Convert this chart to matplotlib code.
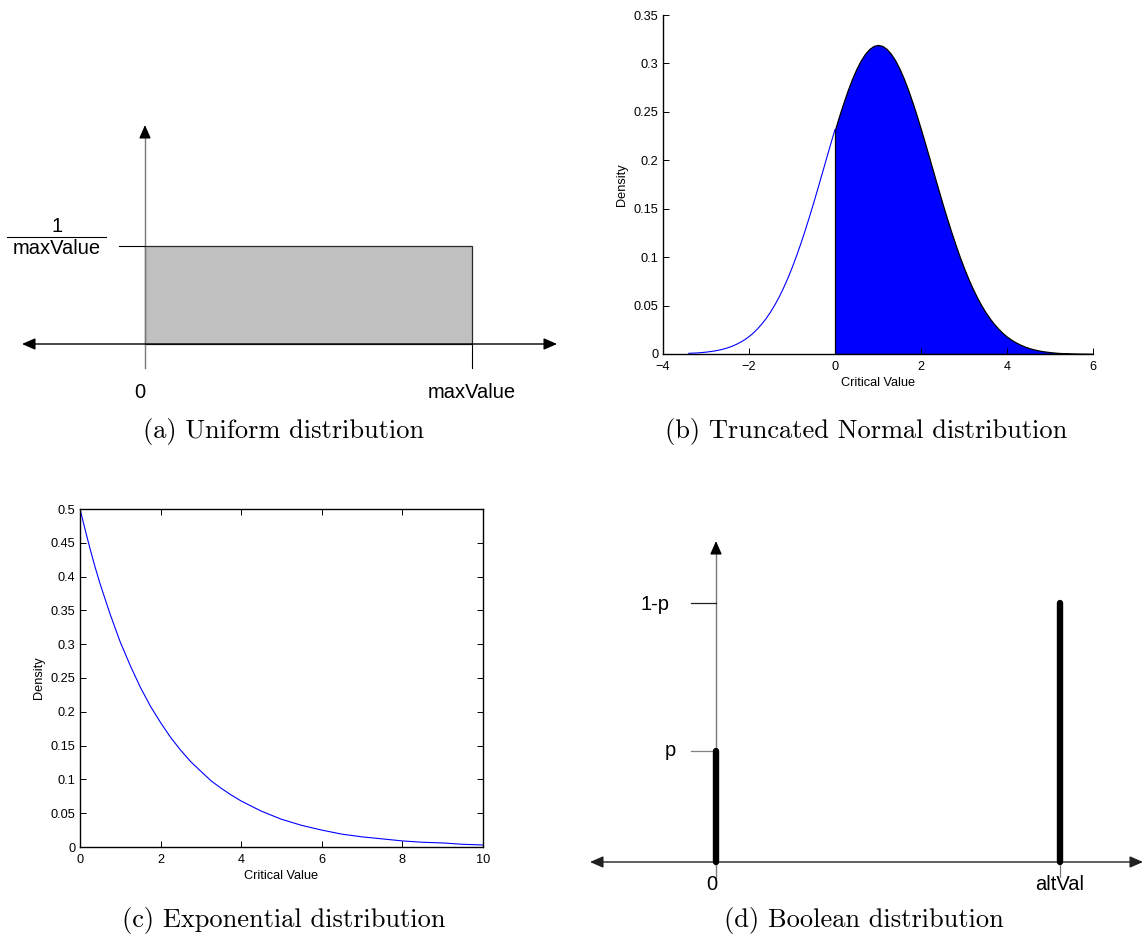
import matplotlib
matplotlib.use("Agg")
import matplotlib.pyplot as plt
from matplotlib.patches import FancyArrowPatch
from matplotlib.ticker import FixedLocator, FixedFormatter

# ------------------------------------------------------------------ data
# (a) Uniform distribution (schematic)
uniform_max = 1.0
uniform_height = 1.0 / uniform_max
uniform_xlabels = ["0", "maxValue"]
uniform_frac = ("1", "maxValue")

# (b) Truncated normal distribution
tn_x = [-3.4, -3.3, -3.2, -3.1, -3.0, -2.9, -2.8, -2.7, -2.6, -2.5, -2.4, -2.3,
        -2.2, -2.1, -2.0, -1.9, -1.8, -1.7, -1.6, -1.5, -1.4, -1.3, -1.2, -1.1,
        -1.0, -0.9, -0.8, -0.7, -0.6, -0.5, -0.4, -0.3, -0.2, -0.1, 0.0, 0.1,
        0.2, 0.3, 0.4, 0.5, 0.6, 0.7, 0.8, 0.9, 1.0, 1.1, 1.2, 1.3,
        1.4, 1.5, 1.6, 1.7, 1.8, 1.9, 2.0, 2.1, 2.2, 2.3, 2.4, 2.5,
        2.6, 2.7, 2.8, 2.9, 3.0, 3.1, 3.2, 3.3, 3.4, 3.5, 3.6, 3.7,
        3.8, 3.9, 4.0, 4.1, 4.2, 4.3, 4.4, 4.5, 4.6, 4.7, 4.8, 4.9,
        5.0, 5.1, 5.2, 5.3, 5.4, 5.5, 5.6, 5.7, 5.8, 5.9, 6.0]
tn_density = [0.0007, 0.0009, 0.0011, 0.0015, 0.0019, 0.0025, 0.0031, 0.0040,
              0.0050, 0.0063, 0.0079, 0.0098, 0.0121, 0.0147, 0.0179, 0.0216,
              0.0260, 0.0310, 0.0367, 0.0432, 0.0505, 0.0587, 0.0678, 0.0778,
              0.0887, 0.1005, 0.1132, 0.1266, 0.1407, 0.1553, 0.1704, 0.1858,
              0.2013, 0.2167, 0.2317, 0.2462, 0.2600, 0.2728, 0.2844, 0.2946,
              0.3032, 0.3100, 0.3150, 0.3181, 0.3191, 0.3181, 0.3150, 0.3100,
              0.3032, 0.2946, 0.2844, 0.2728, 0.2600, 0.2462, 0.2317, 0.2167,
              0.2013, 0.1858, 0.1704, 0.1553, 0.1407, 0.1266, 0.1132, 0.1005,
              0.0887, 0.0778, 0.0678, 0.0587, 0.0505, 0.0432, 0.0367, 0.0310,
              0.0260, 0.0216, 0.0179, 0.0147, 0.0121, 0.0098, 0.0079, 0.0063,
              0.0050, 0.0040, 0.0031, 0.0025, 0.0019, 0.0015, 0.0011, 0.0009,
              0.0007, 0.0005, 0.0004, 0.0003, 0.0002, 0.0002, 0.0001]
tn_cut = 0.0
tn_xticks = [-4, -2, 0, 2, 4, 6]
tn_xticklabels = ["\u22124", "\u22122", "0", "2", "4", "6"]
tn_yticks = [0, 0.05, 0.1, 0.15, 0.2, 0.25, 0.3, 0.35]
tn_yticklabels = ["0", "0.05", "0.1", "0.15", "0.2", "0.25", "0.3", "0.35"]

# (c) Exponential distribution
exp_x = [0.0, 0.125, 0.25, 0.375, 0.5, 0.75, 1.0, 1.25, 1.5, 1.75, 2.0, 2.25,
         2.5, 2.75, 3.0, 3.25, 3.5, 3.75, 4.0, 4.5, 5.0, 5.5, 6.0, 6.5,
         7.0, 7.5, 8.0, 8.5, 9.0, 9.5, 10.0]
exp_density = [0.500, 0.470, 0.441, 0.414, 0.389, 0.344, 0.303, 0.268, 0.236,
               0.208, 0.184, 0.162, 0.143, 0.126, 0.112, 0.098, 0.087, 0.077,
               0.068, 0.053, 0.041, 0.032, 0.025, 0.019, 0.015, 0.012, 0.009,
               0.007, 0.006, 0.004, 0.003]
exp_xticks = [0, 2, 4, 6, 8, 10]
exp_yticks = [0, 0.05, 0.1, 0.15, 0.2, 0.25, 0.3, 0.35, 0.4, 0.45, 0.5]
exp_yticklabels = ["0", "0.05", "0.1", "0.15", "0.2", "0.25", "0.3", "0.35",
                   "0.4", "0.45", "0.5"]

# (d) Boolean distribution (schematic)
bool_positions = [0.0, 1.0]
bool_probs = [0.3, 0.7]
bool_xlabels = ["0", "altVal"]
bool_ylabels = ["p", "1-p"]

captions = ["(a) Uniform distribution", "(b) Truncated Normal distribution",
            "(c) Exponential distribution", "(d) Boolean distribution"]

axis_xlabel = "Critical Value"
axis_ylabel = "Density"

# ------------------------------------------------------------------ layout
W, H, DPI = 1147, 943, 100
SANS = ["Liberation Sans", "DejaVu Sans"]
plt.rcParams["font.family"] = SANS

fig = plt.figure(figsize=(W / DPI, H / DPI), dpi=DPI)
fig.patch.set_facecolor("white")


def px_axes(box, xmap, ymap):
    """Axes whose data->pixel mapping follows two anchor pairs per axis."""
    l, t, r, b = box
    ax = fig.add_axes([l / W, 1 - b / H, (r - l) / W, (b - t) / H])
    (dx0, px0), (dx1, px1) = xmap
    sx = (dx1 - dx0) / (px1 - px0)
    (dy0, py0), (dy1, py1) = ymap
    sy = (dy1 - dy0) / (py1 - py0)
    ax.set_xlim(dx0 + (l - px0) * sx, dx0 + (r - px0) * sx)
    ax.set_ylim(dy0 + (b - py0) * sy, dy0 + (t - py0) * sy)
    ax.axis("off")
    fx = lambda p: dx0 + (p - px0) * sx
    fy = lambda p: dy0 + (p - py0) * sy
    return ax, fx, fy


def arrow(ax, p0, p1, style, color="black", lw=1.0):
    a = FancyArrowPatch(p0, p1, arrowstyle=style, mutation_scale=10,
                        color=color, lw=lw, shrinkA=0, shrinkB=0, zorder=5)
    ax.add_patch(a)


HEAD2 = "<|-|>,head_length=0.8,head_width=0.35"
HEAD1 = "-|>,head_length=0.8,head_width=0.35"
LBL = 14.5

# ---------------- (a) uniform
axa, fx, fy = px_axes((0, 100, 580, 445),
                      ((0.0, 145), (uniform_max, 472)),
                      ((0.0, 344), (uniform_height, 246)))
axa.bar(0, uniform_height, width=uniform_max, align="edge",
        color="#c0c0c0", edgecolor="#2a2a2a", lw=0.9, zorder=2)
arrow(axa, (fx(22), 0), (fx(557), 0), HEAD2)
axa.plot([0, 0], [fy(368), fy(134)], color="#7a7a7a", lw=1.0, zorder=3)
arrow(axa, (0, fy(136)), (0, fy(125)), HEAD1)
axa.plot([uniform_max, uniform_max], [0, fy(368)], color="black", lw=0.8, zorder=3)
axa.plot([fx(119), 0], [uniform_height, uniform_height], color="black", lw=0.8, zorder=3)
axa.text(fx(140), fy(393), uniform_xlabels[0], ha="center", va="center", fontsize=LBL)
axa.text(uniform_max, fy(393), uniform_xlabels[1], ha="center", va="center", fontsize=LBL)
axa.text(fx(57), fy(226), uniform_frac[0], ha="center", va="center", fontsize=LBL)
axa.plot([fx(7), fx(106)], [fy(237), fy(237)], color="black", lw=0.8)
axa.text(fx(57), fy(249), uniform_frac[1], ha="center", va="center", fontsize=LBL)

# ---------------- (b) truncated normal
TICKFS = 9.2
axb = fig.add_axes([663 / W, 1 - 354 / H, (1093 - 663) / W, (354 - 15) / H])
left_x = [x for x in tn_x if x <= tn_cut]
left_y = [y for x, y in zip(tn_x, tn_density) if x <= tn_cut]
right_x = [x for x in tn_x if x >= tn_cut]
right_y = [y for x, y in zip(tn_x, tn_density) if x >= tn_cut]
axb.plot(left_x, left_y, color="#0000ff", lw=0.8)
axb.fill_between(right_x, right_y, 0, facecolor="#0000ff", edgecolor="black", lw=0.9)
axb.set_xlim(-4, 6)
axb.set_ylim(0, 0.35)
for s in ("top", "right"):
    axb.spines[s].set_visible(False)
for s in ("left", "bottom"):
    axb.spines[s].set_linewidth(1.0)
axb.xaxis.set_major_locator(FixedLocator(tn_xticks))
axb.xaxis.set_major_formatter(FixedFormatter(tn_xticklabels))
axb.yaxis.set_major_locator(FixedLocator(tn_yticks))
axb.yaxis.set_major_formatter(FixedFormatter(tn_yticklabels))
axb.tick_params(direction="in", length=4, width=0.7, labelsize=TICKFS)
axb.tick_params(axis="x", pad=5)
axb.tick_params(axis="y", pad=3.5)
axb.set_xlabel(axis_xlabel, fontsize=TICKFS, labelpad=3)
axb.set_ylabel(axis_ylabel, fontsize=TICKFS, labelpad=4)

# ---------------- (c) exponential
axc = fig.add_axes([80 / W, 1 - 847 / H, (483 - 80) / W, (847 - 509) / H])
axc.plot(exp_x, exp_density, color="#0000ff", lw=0.8)
axc.set_xlim(0, 10)
axc.set_ylim(0, 0.5)
for s in axc.spines.values():
    s.set_linewidth(1.0)
axc.xaxis.set_major_locator(FixedLocator(exp_xticks))
axc.yaxis.set_major_locator(FixedLocator(exp_yticks))
axc.yaxis.set_major_formatter(FixedFormatter(exp_yticklabels))
axc.tick_params(direction="in", length=4, width=0.7, labelsize=TICKFS,
                top=True, right=True)
axc.tick_params(axis="x", pad=5)
axc.tick_params(axis="y", pad=3.5)
axc.set_xlabel(axis_xlabel, fontsize=TICKFS, labelpad=3)
axc.set_ylabel(axis_ylabel, fontsize=TICKFS, labelpad=4)

# ---------------- (d) boolean
axd, gx, gy = px_axes((570, 520, 1147, 900),
                      ((bool_positions[0], 716), (bool_positions[1], 1060)),
                      ((0.0, 862), (bool_probs[1], 603)))
arrow(axd, (gx(590), 0), (gx(1143), 0), HEAD2, color="#202020")
axd.plot([0, 0], [gy(878), gy(550)], color="#7a7a7a", lw=1.0, zorder=3)
arrow(axd, (0, gy(552)), (0, gy(541)), HEAD1)
tick_cols = ["#808080", "#202020"]
label_px = [670, 655]
label_dy = [5, 7]
for prob, lab, col, lx, dy in zip(bool_probs, bool_ylabels, tick_cols, label_px, label_dy):
    axd.plot([gx(691), 0], [prob, prob], color=col, lw=0.9, zorder=3)
    axd.text(gx(lx), prob + (gy(603 + dy) - gy(603)), lab, ha="center",
             va="baseline", fontsize=LBL)
axd.plot([bool_positions[1], bool_positions[1]], [0, gy(877)], color="#7a7a7a", lw=0.9)
bars = axd.vlines(bool_positions, 0, bool_probs, colors="black", lw=4.6, zorder=6)
bars.set_capstyle("round")
axd.text(gx(712), gy(884), bool_xlabels[0], ha="center", va="center", fontsize=LBL)
axd.text(bool_positions[1], gy(884), bool_xlabels[1], ha="center", va="center", fontsize=LBL)

# ---------------- captions
CAP = dict(ha="center", va="center", fontsize=19, family="cmr10")
cap_pos = [(284, 431), (866, 431), (284, 921), (864, 921)]
for (cx, cy), txt in zip(cap_pos, captions):
    fig.text(cx / W, 1 - cy / H, txt, **CAP)

fig.savefig("out.png", dpi=DPI)
